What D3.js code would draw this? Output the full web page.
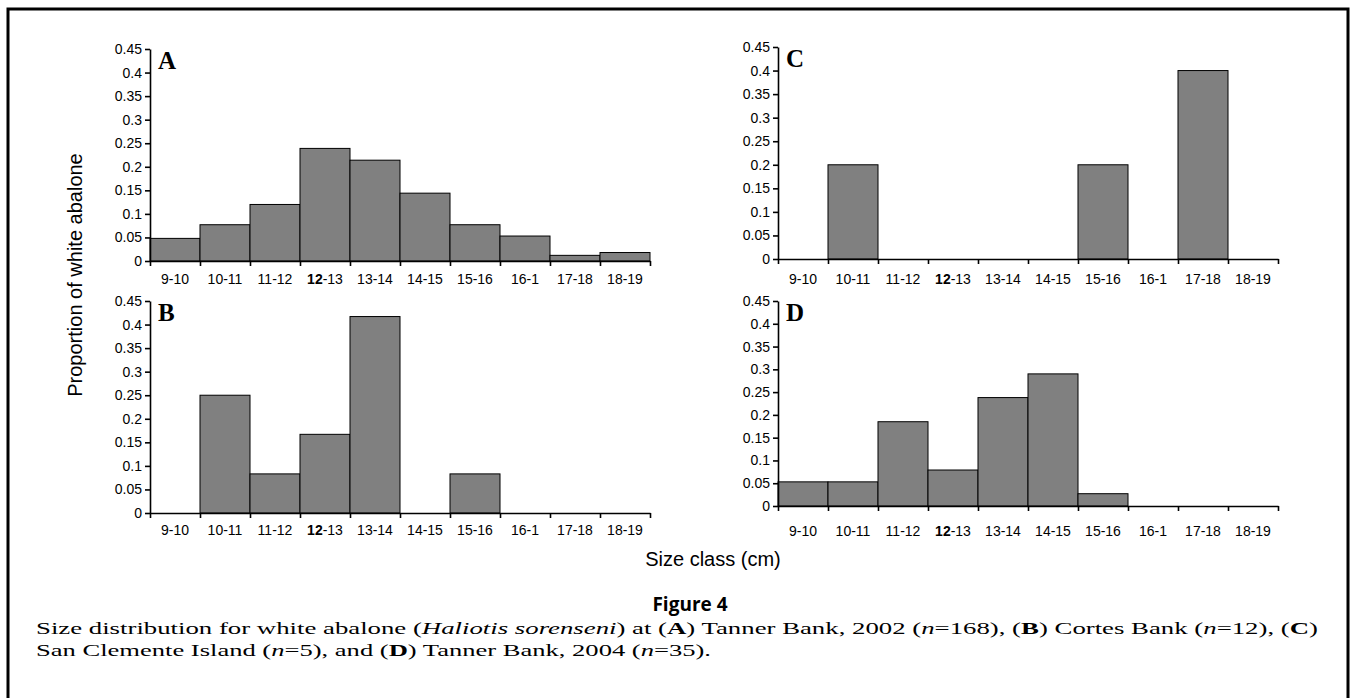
<!doctype html>
<html lang="en">
<head>
<meta charset="UTF-8">
<title>Figure 4</title>
<script src="https://cdn.jsdelivr.net/npm/d3@7"></script>
<style>
    body{ margin:0; background:#fff; }
    svg{ display:block; }
    .tick text{ font-family: "Liberation Sans", Arial, sans-serif; font-size:14px; fill:#000; }
    .axis path, .axis line{ stroke:#000; stroke-width:1.6px; }
    .bar{ fill:#808080; stroke:#000; stroke-width:1px; }
    .panelLetter{ font-family:"Liberation Serif","Times New Roman",serif; font-weight:bold; font-size:25px; }
    .axisTitle{ font-family:"Liberation Sans", Arial, sans-serif; font-size:20px; }
    .figTitle{ font-family:"Open Sans", "Noto Sans", sans-serif; font-weight:bold; font-size:19px; }
    .caption{ font-family:"Liberation Serif", serif; font-size:16.5px; }
</style>
</head>
<body>
<svg width="1351" height="698"></svg>
<script>
    // size classes (x categories)
    const sizeClasses = ["9-10","10-11","11-12","12-13","13-14","14-15","15-16","16-1","17-18","18-19"];
    // proportions
    const tannerBank2002 = [0.048,0.077,0.12,0.239,0.214,0.144,0.077,0.053,0.012,0.018];
    const cortesBank = [0,0.25,0.083,0.167,0.417,0,0.083,0,0,0];
    const sanClemente = [0,0.2,0,0,0,0,0.2,0,0.4,0];
    const tannerBank2004 = [0.053,0.053,0.185,0.079,0.238,0.29,0.027,0,0,0];
    const yTicks = [0,0.05,0.1,0.15,0.2,0.25,0.3,0.35,0.4,0.45];
    const yTickLabels = ["0","0.05","0.1","0.15","0.2","0.25","0.3","0.35","0.4","0.45"];

    let svg = d3.select("svg");

    // frame (bottom edge is outside the picture)
    svg.append("path").attr("d","M8,698 V9 H1348 V698")
        .attr("fill","none").attr("stroke","#000").attr("stroke-width",3);

    // panel layout: left edge, top (0.45) and bottom (0)
    let panels = [
        {letter:"A", values:tannerBank2002, left:150, top:49, bottom:261, pad:13},
        {letter:"B", values:cortesBank,     left:150, top:301, bottom:513, pad:12},
        {letter:"C", values:sanClemente,    left:778, top:47, bottom:259, pad:15},
        {letter:"D", values:tannerBank2004, left:778, top:301, bottom:506, pad:20}
    ];

    panels.forEach(p=>{
        let g = svg.append("g");
        let x = d3.scaleBand().domain(sizeClasses).range([p.left,p.left+500]).padding(0);
        let xEdge = d3.scaleLinear().domain([0,sizeClasses.length]).range([p.left,p.left+500]);
        let y = d3.scaleLinear().domain([0,0.45]).range([p.bottom,p.top]);

        // bars
        g.selectAll(".bar")
            .data(p.values.map((v,i)=>({c:sizeClasses[i],v:v})).filter(d=>d.v>0))
            .enter().append("rect")
            .attr("class","bar")
            .attr("x",d=>x(d.c))
            .attr("width",x.bandwidth())
            .attr("y",d=>y(d.v))
            .attr("height",d=>y(0)-y(d.v));

        // y axis
        g.append("g").attr("class","axis")
            .attr("transform",`translate(${p.left},0)`)
            .call(d3.axisLeft(y).tickValues(yTicks).tickSize(5).tickSizeOuter(0).tickPadding(3)
                .tickFormat((d,i)=>yTickLabels[i]));

        // x axis: ticks on class boundaries
        g.append("g").attr("class","axis")
            .attr("transform",`translate(0,${p.bottom})`)
            .call(d3.axisBottom(xEdge).tickValues(d3.range(sizeClasses.length+1)).tickSize(5).tickSizeOuter(0).tickFormat(""));

        // x labels centred in each class
        let lab = g.append("g").attr("class","axis")
            .attr("transform",`translate(0,${p.bottom})`)
            .call(d3.axisBottom(x).tickSize(0).tickPadding(p.pad));
        lab.select(".domain").remove();
        lab.selectAll(".tick text").each(function(d){
            if(d==="12-13"){
                let t = d3.select(this).text("");
                t.append("tspan").attr("font-weight","bold").text("12");
                t.append("tspan").text("-13");
            }
        });

        // panel letter
        g.append("text").attr("class","panelLetter")
            .attr("x",p.left+8).attr("y",p.top+20).text(p.letter);
    });

    // axis titles
    svg.append("text").attr("class","axisTitle")
        .attr("transform","translate(82,275) rotate(-90)")
        .attr("text-anchor","middle").text("Proportion of white abalone");
    svg.append("text").attr("class","axisTitle")
        .attr("x",713).attr("y",566).attr("text-anchor","middle").text("Size class (cm)");

    // figure title and caption
    svg.append("text").attr("class","figTitle")
        .attr("x",690).attr("y",611).attr("text-anchor","middle").text("Figure 4");

    let cap1 = svg.append("text").attr("class","caption").attr("x",36).attr("y",634)
        .attr("textLength",1282).attr("lengthAdjust","spacingAndGlyphs");
    cap1.append("tspan").text("Size distribution for white abalone (");
    cap1.append("tspan").attr("font-style","italic").text("Haliotis sorenseni");
    cap1.append("tspan").text(") at (");
    cap1.append("tspan").attr("font-weight","bold").text("A");
    cap1.append("tspan").text(") Tanner Bank, 2002 (");
    cap1.append("tspan").attr("font-style","italic").text("n");
    cap1.append("tspan").text("=168), (");
    cap1.append("tspan").attr("font-weight","bold").text("B");
    cap1.append("tspan").text(") Cortes Bank (");
    cap1.append("tspan").attr("font-style","italic").text("n");
    cap1.append("tspan").text("=12), (");
    cap1.append("tspan").attr("font-weight","bold").text("C");
    cap1.append("tspan").text(")");

    let cap2 = svg.append("text").attr("class","caption").attr("x",36).attr("y",656)
        .attr("textLength",675).attr("lengthAdjust","spacingAndGlyphs");
    cap2.append("tspan").text("San Clemente Island (");
    cap2.append("tspan").attr("font-style","italic").text("n");
    cap2.append("tspan").text("=5), and (");
    cap2.append("tspan").attr("font-weight","bold").text("D");
    cap2.append("tspan").text(") Tanner Bank, 2004 (");
    cap2.append("tspan").attr("font-style","italic").text("n");
    cap2.append("tspan").text("=35).");
</script>
</body>
</html>
